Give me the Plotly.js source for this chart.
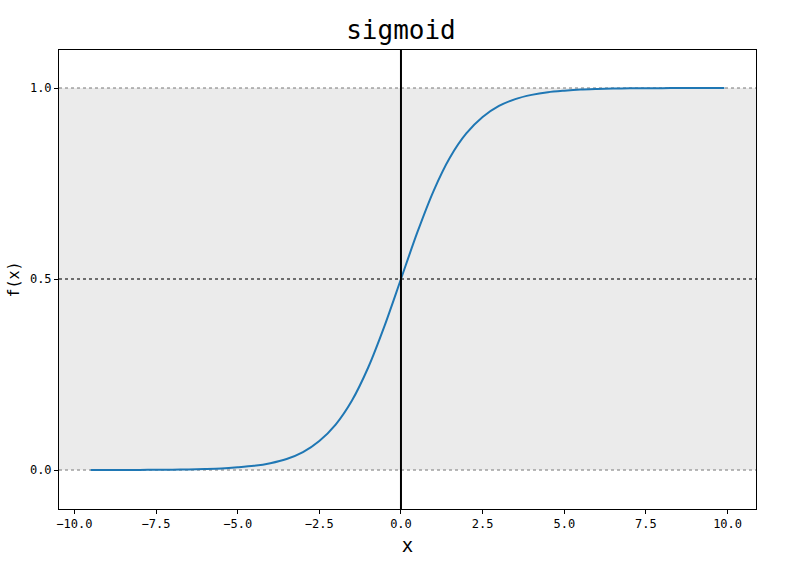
<!DOCTYPE html>
<html>
<head>
<meta charset="utf-8">
<script src="https://cdn.plot.ly/plotly-3.0.1.min.js"></script>
<style>body{margin:0;background:#fff}#chart{width:802px;height:569px}</style>
</head>
<body>
<div id="chart"></div>
<script>
const xValues = [-9.5,-9,-8.5,-8,-7.5,-7,-6.5,-6,-5.5,-5,-4.5,-4,-3.5,-3,-2.5,-2,-1.5,-1,-0.5,0,0.5,1,1.5,2,2.5,3,3.5,4,4.5,5,5.5,6,6.5,7,7.5,8,8.5,9,9.5,9.9];
const fValues = [0.0001,0.0001,0.0002,0.0003,0.0006,0.0009,0.0015,0.0025,0.004,0.007,0.011,0.018,0.029,0.047,0.076,0.119,0.182,0.269,0.378,0.5,0.622,0.731,0.818,0.881,0.924,0.953,0.971,0.982,0.989,0.993,0.996,0.9975,0.9985,0.9991,0.9994,0.9997,0.9998,0.9999,0.9999,1.0];
const xTickVals = [-10,-7.5,-5,-2.5,0,2.5,5,7.5,10];
const xTickText = ["\u221210.0","\u22127.5","\u22125.0","\u22122.5","0.0","2.5","5.0","7.5","10.0"];
const yTickVals = [0,0.5,1];
const yTickText = ["0.0","0.5","1.0"];
const bandLow = 0, bandHigh = 1, midLine = 0.5;

const font = '"DejaVu Sans Mono", "Liberation Mono", monospace';

const trace = {
  x: xValues, y: fValues, type: 'scatter', mode: 'lines',
  line: {color: '#1f77b4', width: 2, shape: 'spline', smoothing: 0.8},
  hoverinfo: 'skip'
};

const layout = {
  width: 802, height: 569,
  margin: {l: 59, r: 46, t: 50, b: 60},
  paper_bgcolor: '#ffffff', plot_bgcolor: '#ffffff',
  showlegend: false,
  font: {family: font, color: '#000'},
  title: {text: 'sigmoid', font: {family: font, size: 26, color: '#000'}, x: 0.5, xanchor: 'center', y: 0.948, yanchor: 'middle'},
  xaxis: {
    range: [-10.47, 10.87], showgrid: false, zeroline: false,
    tickmode: 'array', tickvals: xTickVals, ticktext: xTickText,
    ticks: 'outside', ticklen: 4, tickwidth: 1, tickcolor: '#000',
    showline: true, linecolor: '#000', linewidth: 1, mirror: true,
    tickfont: {family: font, size: 12, color: '#000'},
    title: {text: 'x', font: {family: font, size: 19, color: '#000'}, standoff: 8}
  },
  yaxis: {
    range: [-0.102, 1.0995], showgrid: false, zeroline: false,
    tickmode: 'array', tickvals: yTickVals, ticktext: yTickText,
    ticks: 'outside', ticklen: 4, tickwidth: 1, tickcolor: '#000',
    showline: true, linecolor: '#000', linewidth: 1, mirror: true,
    tickfont: {family: font, size: 12, color: '#000'},
    title: {text: 'f(x)', font: {family: font, size: 15, color: '#000'}, standoff: 6}
  },
  shapes: [
    {type: 'rect', xref: 'paper', yref: 'y', x0: 0, x1: 1, y0: bandLow, y1: bandHigh, fillcolor: '#ebebeb', line: {width: 0}, layer: 'below'},
    {type: 'line', xref: 'paper', yref: 'y', x0: 0, x1: 1, y0: bandLow, y1: bandLow, line: {color: '#777', width: 1, dash: 'dot'}, layer: 'below'},
    {type: 'line', xref: 'paper', yref: 'y', x0: 0, x1: 1, y0: bandHigh, y1: bandHigh, line: {color: '#777', width: 1, dash: 'dot'}, layer: 'below'},
    {type: 'line', xref: 'paper', yref: 'y', x0: 0, x1: 1, y0: midLine, y1: midLine, line: {color: '#444', width: 1.6, dash: 'dot'}, layer: 'below'},
    {type: 'line', xref: 'x', yref: 'paper', x0: 0, x1: 0, y0: 0, y1: 1, line: {color: '#000', width: 2}, layer: 'above'}
  ]
};

Plotly.newPlot('chart', [trace], layout, {displayModeBar: false, staticPlot: true});
</script>
</body>
</html>
